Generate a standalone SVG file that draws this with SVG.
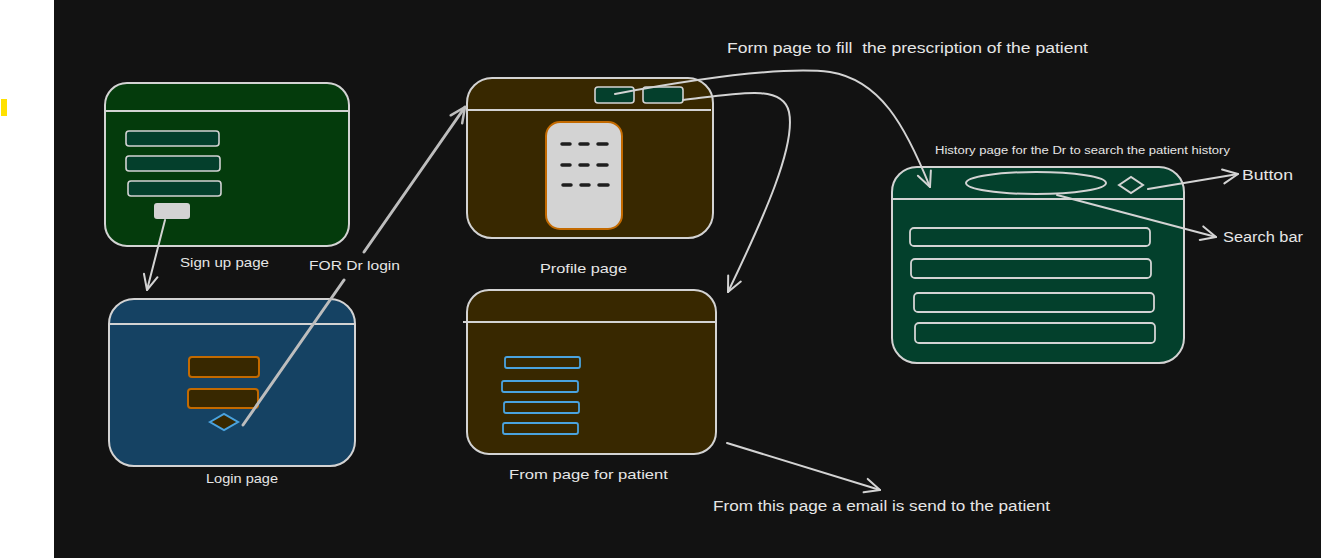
<svg xmlns="http://www.w3.org/2000/svg" width="1321" height="558" viewBox="0 0 1321 558">
<defs>
<style>
.t{font-family:"Liberation Sans","DejaVu Sans",sans-serif;fill:#e6e6e6;}
.box{stroke:#d3d3d3;stroke-width:2;}
.ln{stroke:#d3d3d3;stroke-width:2;fill:none;}
.wire{stroke:#d3d3d3;stroke-width:2;fill:none;stroke-linecap:round;}
.inp{fill:#043f2c;stroke:#d3d3d3;stroke-width:1.6;}
.org{fill:#382800;stroke:#c36a00;stroke-width:2;}
.blu{fill:none;stroke:#4aa3df;stroke-width:1.8;}
.row{fill:none;stroke:#d3d3d3;stroke-width:1.8;}
.dash{stroke:#1e1e1e;stroke-width:3.5;stroke-linecap:round;}
</style>
<marker id="arr" viewBox="-18 -10 20 20" refX="0" refY="0" markerWidth="20" markerHeight="20" markerUnits="userSpaceOnUse" orient="auto">
<path d="M-15,-7 L0,0 L-15,7" fill="none" stroke="#d3d3d3" stroke-width="2" stroke-linecap="round" stroke-linejoin="round"/>
</marker>
<marker id="arrg" viewBox="-18 -10 20 20" refX="0" refY="0" markerWidth="20" markerHeight="20" markerUnits="userSpaceOnUse" orient="auto">
<path d="M-15,-7 L0,0 L-15,7" fill="none" stroke="#bdbdbd" stroke-width="2.5" stroke-linecap="round" stroke-linejoin="round"/>
</marker>
</defs>
<rect x="0" y="0" width="1321" height="558" fill="#ffffff"/>
<rect x="54" y="0" width="1267" height="558" fill="#121212"/>
<rect x="1" y="99" width="6" height="17" fill="#ffe100"/>

<g id="signup">
<rect class="box" x="105" y="83" width="244" height="163" rx="22" fill="#043b0c"/>
<line class="ln" x1="105" y1="111" x2="349" y2="111"/>
<rect class="inp" x="126" y="131" width="93" height="15" rx="3"/>
<rect class="inp" x="126" y="156" width="94" height="15" rx="3"/>
<rect class="inp" x="128" y="181" width="93" height="15" rx="3"/>
<rect x="154" y="203" width="36" height="16" rx="3" fill="#d3d3d3"/>
<text class="t" x="180" y="267" font-size="13.5" textLength="89" lengthAdjust="spacingAndGlyphs">Sign up page</text>
</g>

<g id="login">
<rect class="box" x="109" y="299" width="246" height="167" rx="25" fill="#154263"/>
<line class="ln" x1="109" y1="324" x2="355" y2="324"/>
<rect class="org" x="189" y="357" width="70" height="20" rx="3"/>
<rect class="org" x="188" y="389" width="70" height="19" rx="3"/>
<path d="M210,422 L224,414 L238,422 L224,430 Z" fill="#382800" stroke="#4aa3df" stroke-width="2"/>
<text class="t" x="206" y="483" font-size="13.5" textLength="72" lengthAdjust="spacingAndGlyphs">Login page</text>
</g>

<g id="profile">
<rect class="box" x="467" y="78" width="246" height="160" rx="25" fill="#382800"/>
<line class="ln" x1="467" y1="110" x2="711" y2="110"/>
<rect class="inp" x="595" y="87" width="39" height="16" rx="3"/>
<rect class="inp" x="643" y="87" width="40" height="16" rx="3"/>
<rect x="546" y="122" width="76" height="107" rx="14" fill="#d3d3d3" stroke="#c36a00" stroke-width="2"/>
<g class="dash">
<line x1="562" y1="144" x2="570" y2="144"/><line x1="580" y1="144" x2="588" y2="144"/><line x1="598" y1="144" x2="607" y2="144"/>
<line x1="562" y1="165" x2="570" y2="165"/><line x1="580" y1="165" x2="588" y2="165"/><line x1="598" y1="165" x2="607" y2="165"/>
<line x1="563" y1="185" x2="571" y2="185"/><line x1="581" y1="185" x2="589" y2="185"/><line x1="599" y1="185" x2="608" y2="185"/>
</g>
<text class="t" x="540" y="273" font-size="13.5" textLength="87" lengthAdjust="spacingAndGlyphs">Profile page</text>
</g>

<g id="patientform">
<rect class="box" x="467" y="290" width="249" height="164" rx="22" fill="#382800"/>
<line class="ln" x1="463" y1="322" x2="716" y2="322"/>
<rect class="blu" x="505" y="357" width="75" height="11" rx="2"/>
<rect class="blu" x="502" y="381" width="76" height="11" rx="2"/>
<rect class="blu" x="504" y="402" width="75" height="11" rx="2"/>
<rect class="blu" x="503" y="423" width="75" height="11" rx="2"/>
<text class="t" x="509" y="479" font-size="13.5" textLength="159" lengthAdjust="spacingAndGlyphs">From page for patient</text>
</g>

<g id="history">
<rect class="box" x="892" y="167" width="292" height="196" rx="25" fill="#03402c"/>
<line class="ln" x1="892" y1="199" x2="1184" y2="199"/>
<ellipse cx="1036" cy="183" rx="70" ry="11" fill="none" stroke="#d3d3d3" stroke-width="2"/>
<path d="M1119,185 L1131,177 L1143,185 L1131,193 Z" fill="none" stroke="#d3d3d3" stroke-width="2"/>
<rect class="row" x="910" y="228" width="240" height="18" rx="4"/>
<rect class="row" x="911" y="259" width="240" height="19" rx="4"/>
<rect class="row" x="914" y="293" width="240" height="19" rx="4"/>
<rect class="row" x="915" y="323" width="240" height="20" rx="4"/>
<text class="t" x="935" y="154" font-size="10" textLength="295" lengthAdjust="spacingAndGlyphs">History page for the Dr to search the patient history</text>
</g>

<g id="connectors">
<path class="wire" d="M165,220 L147,290" marker-end="url(#arr)"/>
<path d="M243,425 L344,280" fill="none" stroke="#bdbdbd" stroke-width="3" stroke-linecap="round"/>
<path d="M364,252 L465,107" fill="none" stroke="#bdbdbd" stroke-width="3" stroke-linecap="round" marker-end="url(#arrg)"/>
<path class="wire" d="M615,94 C690,80 780,66 830,72 C880,80 905,125 930,187" marker-end="url(#arr)"/>
<path class="wire" d="M683,100 C740,93 783,84 789,112 C796,145 765,215 728,292" marker-end="url(#arr)"/>
<path class="wire" d="M727,443 L880,490" marker-end="url(#arr)"/>
<path class="wire" d="M1148,189 L1238,174" marker-end="url(#arr)"/>
<path class="wire" d="M1057,195 L1216,237" marker-end="url(#arr)"/>
</g>

<text class="t" x="309" y="270" font-size="13.5" textLength="91" lengthAdjust="spacingAndGlyphs">FOR Dr login</text>
<text class="t" x="727" y="53" font-size="14" textLength="361" lengthAdjust="spacingAndGlyphs" style="white-space:pre">Form page to fill  the prescription of the patient</text>
<text class="t" x="713" y="511" font-size="14" textLength="337" lengthAdjust="spacingAndGlyphs">From this page a email is send to the patient</text>
<text class="t" x="1242" y="180" font-size="14" textLength="51" lengthAdjust="spacingAndGlyphs">Button</text>
<text class="t" x="1223" y="242" font-size="14" textLength="80" lengthAdjust="spacingAndGlyphs">Search bar</text>
</svg>
